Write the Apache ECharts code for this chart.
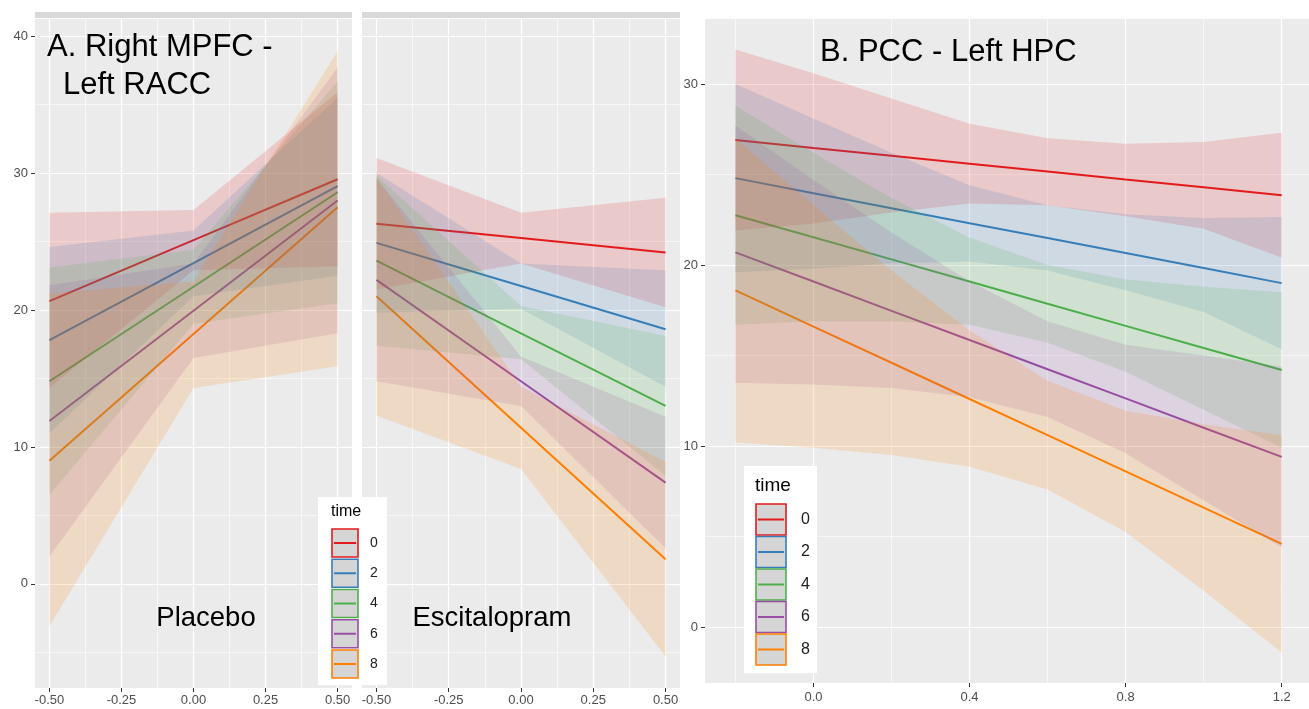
<!DOCTYPE html>
<html>
<head>
<meta charset="utf-8">
<script src="https://cdn.jsdelivr.net/npm/echarts@6/dist/echarts.min.js"></script>
<style>
html,body{margin:0;padding:0;background:#fff;}
#chart{width:1309px;height:709px;}
</style>
</head>
<body>
<div id="chart"></div>
<script>
// ---------- data ----------
const timeLevels = ['0', '2', '4', '6', '8'];
const timeColors = ['#E41A1C', '#377EB8', '#4DAF4A', '#984EA3', '#FF7F00'];

// Panel A: Right MPFC - Left RACC
const xA = [-0.5, 0, 0.5];
const placeboFit = [
  [20.65, 25.10, 29.55],
  [17.80, 23.42, 29.05],
  [14.80, 21.70, 28.60],
  [11.90, 19.95, 28.00],
  [9.00, 18.25, 27.50]
];
const placeboLower = [
  [14.3, 22.9, 23.2],
  [11.0, 21.0, 22.5],
  [6.5, 19.0, 20.5],
  [2.0, 16.5, 18.3],
  [-3.1, 14.3, 15.9]
];
const placeboUpper = [
  [27.1, 27.3, 35.9],
  [24.6, 25.8, 35.5],
  [23.1, 24.4, 36.7],
  [21.8, 23.4, 37.7],
  [21.2, 22.1, 38.9]
];
const escitFit = [
  [26.3, 25.25, 24.2],
  [24.9, 21.75, 18.6],
  [23.6, 18.30, 13.0],
  [22.2, 14.80, 7.4],
  [21.0, 11.40, 1.8]
];
const escitLower = [
  [21.5, 23.4, 20.2],
  [19.8, 20.1, 14.4],
  [17.4, 16.4, 7.9],
  [14.8, 13.0, 2.6],
  [12.3, 8.4, -5.3]
];
const escitUpper = [
  [31.1, 27.1, 28.2],
  [30.0, 23.4, 22.9],
  [29.8, 20.3, 18.1],
  [29.6, 16.6, 12.2],
  [29.7, 14.4, 8.9]
];

// Panel B: PCC - Left HPC
const xB = [-0.2, 0, 0.2, 0.4, 0.6, 0.8, 1.0, 1.2];
const pccFit = [
  [26.90, 26.46, 26.03, 25.59, 25.16, 24.72, 24.29, 23.85],
  [24.80, 23.97, 23.14, 22.31, 21.49, 20.66, 19.83, 19.00],
  [22.75, 21.53, 20.31, 19.09, 17.86, 16.64, 15.42, 14.20],
  [20.70, 19.09, 17.47, 15.86, 14.24, 12.63, 11.01, 9.40],
  [18.60, 16.60, 14.60, 12.60, 10.60, 8.60, 6.60, 4.60]
];
const pccLower = [
  [21.9, 22.3, 22.9, 23.4, 23.3, 22.7, 22.0, 20.4],
  [19.6, 19.8, 20.1, 20.2, 19.7, 18.6, 17.4, 15.35],
  [16.7, 16.9, 16.9, 16.7, 15.7, 14.1, 12.0, 9.9],
  [13.5, 13.4, 13.2, 12.7, 11.6, 9.6, 7.0, 4.4],
  [10.2, 9.9, 9.5, 8.85, 7.6, 5.25, 2.0, -1.4]
];
const pccUpper = [
  [31.9, 30.6, 29.2, 27.8, 27.0, 26.7, 26.8, 27.3],
  [30.0, 28.1, 26.2, 24.4, 23.3, 22.8, 22.6, 22.65],
  [28.8, 26.2, 23.7, 21.5, 20.0, 19.2, 18.8, 18.5],
  [27.7, 24.7, 21.8, 19.1, 16.9, 15.6, 15.0, 14.4],
  [27.0, 23.3, 19.7, 16.4, 13.6, 11.95, 11.2, 10.6]
];

// tick values
const aTicksX = [-0.5, -0.25, 0, 0.25, 0.5];
const aMinorX = [-0.375, -0.125, 0.125, 0.375];
const aTicksY = [0, 10, 20, 30, 40];
const aMinorY = [-5, 5, 15, 25, 35];
const bTicksX = [0, 0.4, 0.8, 1.2];
const bMinorX = [-0.2, 0.2, 0.6, 1.0];
const bTicksY = [0, 10, 20, 30];
const bMinorY = [5, 15, 25];

// ---------- helpers ----------
const FONT = "'Liberation Sans', Arial, Helvetica, sans-serif";
function rgba(hex, a) {
  const n = parseInt(hex.slice(1), 16);
  return 'rgba(' + ((n >> 16) & 255) + ',' + ((n >> 8) & 255) + ',' + (n & 255) + ',' + a + ')';
}
const RIBBON_ALPHA = 0.16;

function majorX(grid, min, max, ticks, fmt, showLabel) {
  return {
    type: 'value', gridIndex: grid, min: min, max: max, position: 'bottom',
    axisLine: {show: false, onZero: false},
    axisTick: {show: true, customValues: ticks, length: 4, lineStyle: {color: '#333', width: 1}},
    axisLabel: {show: showLabel, customValues: ticks, formatter: fmt, color: '#4D4D4D',
      fontSize: 13, fontFamily: FONT, margin: 6},
    splitLine: {show: true, lineStyle: {color: '#FFFFFF', width: 1.2}}
  };
}
function minorAxis(grid, min, max, ticks) {
  return {
    type: 'value', gridIndex: grid, min: min, max: max,
    axisLine: {show: false, onZero: false},
    axisTick: {show: false, customValues: ticks},
    axisLabel: {show: false, customValues: ticks},
    splitLine: {show: true, lineStyle: {color: '#FFFFFF', width: 0.6}}
  };
}
function majorY(grid, min, max, ticks, showLabel) {
  return {
    type: 'value', gridIndex: grid, min: min, max: max, position: 'left',
    axisLine: {show: false, onZero: false},
    axisTick: {show: showLabel, customValues: ticks, length: 4, lineStyle: {color: '#333', width: 1}},
    axisLabel: {show: showLabel, customValues: ticks, formatter: v => String(v), color: '#4D4D4D',
      fontSize: 13, fontFamily: FONT, margin: 7},
    splitLine: {show: true, lineStyle: {color: '#FFFFFF', width: 1.2}}
  };
}

const series = [];
function addPanel(xIdx, yIdx, xs, fits, lows, ups) {
  // lines first (drawn beneath ribbons, as in the original)
  fits.forEach((f, g) => {
    series.push({
      type: 'line', xAxisIndex: xIdx, yAxisIndex: yIdx, z: 2,
      name: timeLevels[g], silent: true, showSymbol: false, symbol: 'none',
      data: xs.map((x, i) => [x, f[i]]),
      lineStyle: {color: timeColors[g], width: 2}, itemStyle: {color: timeColors[g]},
      animation: false
    });
  });
  lows.forEach((lo, g) => {
    const hi = ups[g];
    series.push({
      type: 'custom', xAxisIndex: xIdx, yAxisIndex: yIdx, z: 3, silent: true,
      data: [[xs[0], lo[0]]],
      clip: true, animation: false,
      renderItem: function (params, api) {
        const pts = [];
        for (let i = 0; i < xs.length; i++) pts.push(api.coord([xs[i], hi[i]]));
        for (let i = xs.length - 1; i >= 0; i--) pts.push(api.coord([xs[i], lo[i]]));
        return {type: 'polygon', shape: {points: pts},
          style: {fill: rgba(timeColors[g], RIBBON_ALPHA), stroke: null}};
      }
    });
  });
}

const A_YMIN = -7.6, A_YMAX = 41.25;
const B_YMIN = -3.09, B_YMAX = 33.59;

const xAxes = [
  majorX(0, -0.55, 0.55, aTicksX, v => v.toFixed(2), true),
  minorAxis(0, -0.55, 0.55, aMinorX),
  majorX(1, -0.55, 0.55, aTicksX, v => v.toFixed(2), true),
  minorAxis(1, -0.55, 0.55, aMinorX),
  majorX(2, -0.278, 1.27, bTicksX, v => v.toFixed(1), true),
  minorAxis(2, -0.278, 1.27, bMinorX)
];
xAxes[4].axisLabel.margin = 8;
const yAxes = [
  majorY(0, A_YMIN, A_YMAX, aTicksY, true),
  minorAxis(0, A_YMIN, A_YMAX, aMinorY),
  majorY(1, A_YMIN, A_YMAX, aTicksY, false),
  minorAxis(1, A_YMIN, A_YMAX, aMinorY),
  majorY(2, B_YMIN, B_YMAX, bTicksY, true),
  minorAxis(2, B_YMIN, B_YMAX, bMinorY)
];

addPanel(0, 0, xA, placeboFit, placeboLower, placeboUpper);
addPanel(2, 2, xA, escitFit, escitLower, escitUpper);
addPanel(4, 4, xB, pccFit, pccLower, pccUpper);

// ---------- legends & annotations (graphic) ----------
const graphic = [];
// facet strips
graphic.push({type: 'rect', shape: {x: 35, y: 12, width: 317, height: 6}, style: {fill: '#D9D9D9'}, z: 5});
graphic.push({type: 'rect', shape: {x: 362, y: 12, width: 318, height: 6}, style: {fill: '#D9D9D9'}, z: 5});

function addText(txt, x, y, size, align) {
  graphic.push({type: 'text', z: 20, style: {text: txt, x: x, y: y, fill: '#000',
    font: size + 'px ' + FONT, textAlign: align || 'left', textVerticalAlign: 'middle'}});
}
addText('A. Right MPFC -', 47, 47, 31);
addText('Left RACC', 63, 85, 31);
addText('Placebo', 206, 618, 27.5, 'center');
addText('Escitalopram', 492, 618, 27.5, 'center');
addText('B. PCC - Left HPC', 820, 52, 31);

function addLegend(bx, by, bw, bh, titleX, titleY, titleSize, keyX, keyW, keyH, keyY0, pitch, labX, labSize) {
  graphic.push({type: 'rect', z: 20, shape: {x: bx, y: by, width: bw, height: bh}, style: {fill: '#FFFFFF'}});
  graphic.push({type: 'text', z: 21, style: {text: 'time', x: titleX, y: titleY, fill: '#000',
    font: titleSize + 'px ' + FONT, textVerticalAlign: 'middle'}});
  timeLevels.forEach((lab, i) => {
    const y = keyY0 + i * pitch;
    graphic.push({type: 'rect', z: 21, shape: {x: keyX, y: y, width: keyW, height: keyH},
      style: {fill: '#D5D5D5', stroke: timeColors[i], lineWidth: 1.6}});
    graphic.push({type: 'line', z: 22, shape: {x1: keyX + 2, y1: y + keyH / 2, x2: keyX + keyW - 2, y2: y + keyH / 2},
      style: {stroke: timeColors[i], lineWidth: 2}});
    graphic.push({type: 'text', z: 22, style: {text: lab, x: labX, y: y + keyH / 2, fill: '#222',
      font: labSize + 'px ' + FONT, textVerticalAlign: 'middle'}});
  });
}
addLegend(318, 497, 69, 188, 331, 512, 16, 332, 26, 28, 529, 30.25, 370, 14);
addLegend(744, 466, 73, 207, 755, 486, 19, 756, 30, 31, 504, 32.5, 801, 16);

const chart = echarts.init(document.getElementById('chart'), null, {renderer: 'canvas'});
chart.setOption({
  animation: false,
  backgroundColor: '#FFFFFF',
  grid: [
    {left: 35, top: 19, width: 317, height: 669, show: true, backgroundColor: '#EBEBEB', borderWidth: 0},
    {left: 362, top: 19, width: 318, height: 669, show: true, backgroundColor: '#EBEBEB', borderWidth: 0},
    {left: 705, top: 19, width: 613, height: 664, show: true, backgroundColor: '#EBEBEB', borderWidth: 0}
  ],
  xAxis: xAxes,
  yAxis: yAxes,
  series: series,
  graphic: graphic
});
</script>
</body>
</html>
